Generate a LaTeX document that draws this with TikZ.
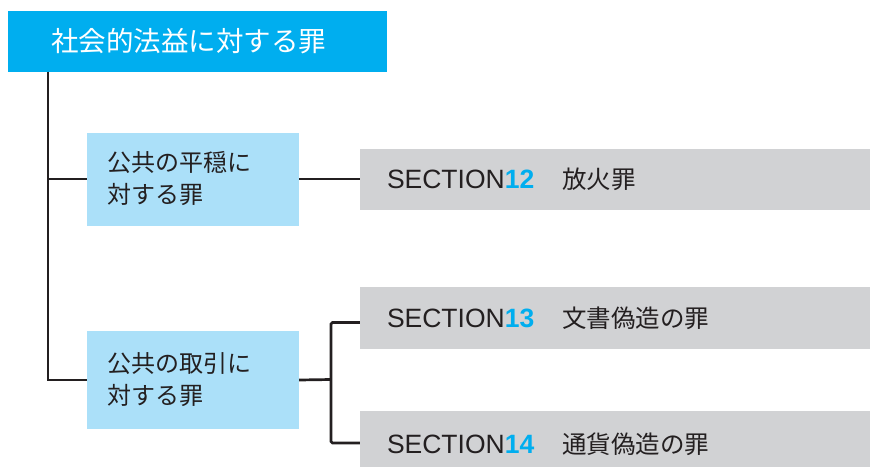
\documentclass[tikz,border=0pt]{standalone}
\usepackage{fontspec}
\setmainfont{Liberation Sans}
\newfontfamily\jp{Noto Sans CJK JP}
\definecolor{topblue}{HTML}{00AEEF}
\definecolor{lightblue}{HTML}{ABE0F9}
\definecolor{boxgray}{HTML}{D1D2D4}
\definecolor{ink}{HTML}{231F20}
\begin{document}
\begin{tikzpicture}[x=1pt,y=-1pt,
  conn/.style={draw=ink,line width=2.7pt},
  topbox/.style={fill=topblue,text=white,minimum width=379pt,minimum height=61pt,inner xsep=43pt,inner ysep=0pt,text width=293pt,align=left,font=\jp\fontsize{27.5pt}{32pt}\selectfont},
  midbox/.style={fill=lightblue,text=ink,minimum width=212pt,inner xsep=20pt,inner ysep=0pt,text width=172pt,align=left,font=\jp\fontsize{24pt}{32pt}\selectfont},
  secbox/.style={fill=boxgray,text=ink,minimum width=510pt,inner xsep=27pt,inner ysep=0pt,text width=456pt,align=left,font=\fontsize{26.5pt}{32pt}\selectfont},
  kanji/.style={}]
\useasboundingbox (0,0) rectangle (870,466);
\node[topbox] (top) at (197.5,41) {社会的法益に対する罪};
\node[midbox,minimum height=93pt] (b1) at (193,179) {公共の平穏に\\対する罪};
\node[midbox,minimum height=98pt] (b2) at (193,380) {公共の取引に\\対する罪};
\node[secbox,minimum height=61pt] (s12) at (615,179) {SECTION\textcolor{topblue}{\textbf{12}}\hspace{28pt}{\jp\fontsize{24.5pt}{28pt}\selectfont 放火罪}};
\node[secbox,minimum height=62pt] (s13) at (615,318) {SECTION\textcolor{topblue}{\textbf{13}}\hspace{28pt}{\jp\fontsize{24.5pt}{28pt}\selectfont 文書偽造の罪}};
\node[secbox,minimum height=66pt] (s14) at (615,444) {SECTION\textcolor{topblue}{\textbf{14}}\hspace{28pt}{\jp\fontsize{24.5pt}{28pt}\selectfont 通貨偽造の罪}};
\coordinate (t0) at (48,71.5);
\coordinate (j) at (331,379.5);
\draw[conn] (t0) |- (b2.west);
\draw[conn] (t0 |- b1.west) -- (b1.west);
\draw[conn] (b1.east) -- (s12.west);
\draw[conn] (b2.east) -- (j);
\draw[conn,rounded corners=1.5pt] ([yshift=-4.5pt]s13.west) -| (j) |- ([yshift=1pt]s14.west);
\end{tikzpicture}
\end{document}
